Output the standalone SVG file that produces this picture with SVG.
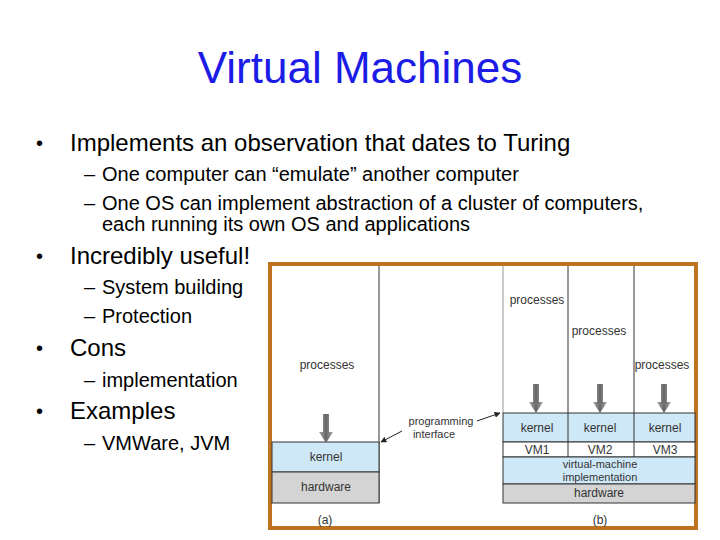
<svg xmlns="http://www.w3.org/2000/svg" width="720" height="540" viewBox="0 0 720 540">
<defs>
<style>
text{font-family:"Liberation Sans",Arial,sans-serif;fill:#000}
.t1{font-size:24px}.t2{font-size:20px}
.f{font-size:12px;fill:#333;text-anchor:middle}
.s{font-size:11px}
.k{fill:#cfe8f7;stroke:#333;stroke-width:1}
.h{fill:#d4d4d4;stroke:#333;stroke-width:1}
.w{fill:#fff;stroke:#333;stroke-width:1}
.ln{stroke:#333;stroke-width:1;fill:none}
</style>
<linearGradient id="g" x1="0" y1="0" x2="1" y2="0"><stop offset="0" stop-color="#aaa"/><stop offset="0.5" stop-color="#666"/><stop offset="1" stop-color="#aaa"/></linearGradient>
<marker id="ah" viewBox="0 0 10 10" refX="9" refY="5" markerWidth="6" markerHeight="6" orient="auto-start-reverse"><path d="M0,0L10,5L0,10z" fill="#222"/></marker>
<g id="dn"><path d="M-3,0H3V18H7L0,29L-7,18H-3Z" fill="url(#g)"/></g>
</defs>
<rect width="720" height="540" fill="#fff"/>
<text x="360" y="83" text-anchor="middle" style="font-size:44px;fill:#1c1ce6">Virtual Machines</text>
<g id="bullets">
<text class="t2" x="36" y="150">•</text><text class="t1" x="70" y="151">Implements an observation that dates to Turing</text>
<text class="t2" x="84" y="181">–</text><text class="t2" x="102" y="181">One computer can “emulate” another computer</text>
<text class="t2" x="84" y="210">–</text><text class="t2" x="102" y="210">One OS can implement abstraction of a cluster of computers,</text>
<text class="t2" x="102" y="231">each running its own OS and applications</text>
<text class="t2" x="36" y="263">•</text><text class="t1" x="70" y="264">Incredibly useful!</text>
<text class="t2" x="84" y="294">–</text><text class="t2" x="102" y="294">System building</text>
<text class="t2" x="84" y="323">–</text><text class="t2" x="102" y="323">Protection</text>
<text class="t2" x="36" y="355">•</text><text class="t1" x="70" y="356">Cons</text>
<text class="t2" x="84" y="387">–</text><text class="t2" x="102" y="387">implementation</text>
<text class="t2" x="36" y="418">•</text><text class="t1" x="70" y="419">Examples</text>
<text class="t2" x="84" y="450">–</text><text class="t2" x="102" y="450">VMWare, JVM</text>
</g>
<rect x="270" y="264" width="426" height="264" fill="#fff" stroke="#c0731e" stroke-width="4"/>
<g id="a">
<line class="ln" x1="379" y1="266" x2="379" y2="503"/>
<rect class="k" x="272" y="442" width="107" height="30"/>
<rect class="h" x="272" y="472" width="107" height="31"/>
<text class="f" x="326" y="461">kernel</text>
<text class="f" x="326" y="491">hardware</text>
<text class="f" x="327" y="369">processes</text>
<use href="#dn" x="326" y="414"/>
<text class="f" x="325" y="524">(a)</text>
</g>
<g id="b">
<line x1="503" y1="266" x2="503" y2="413" stroke="#bbb" stroke-width="1.5"/>
<line class="ln" x1="568" y1="266" x2="568" y2="457"/>
<line class="ln" x1="634" y1="266" x2="634" y2="457"/>
<rect class="k" x="503" y="413" width="192" height="29"/>
<line class="ln" x1="568" y1="413" x2="568" y2="442"/><line class="ln" x1="634" y1="413" x2="634" y2="442"/>
<rect class="w" x="503" y="442" width="192" height="15"/>
<line class="ln" x1="568" y1="442" x2="568" y2="457"/><line class="ln" x1="634" y1="442" x2="634" y2="457"/>
<rect class="k" x="503" y="457" width="192" height="27"/>
<rect class="h" x="503" y="484" width="192" height="19"/>
<text class="f" x="537" y="432">kernel</text><text class="f" x="600" y="432">kernel</text><text class="f" x="665" y="432">kernel</text>
<text class="f" x="537" y="454">VM1</text><text class="f" x="600" y="454">VM2</text><text class="f" x="665" y="454">VM3</text>
<text class="f s" x="600" y="468">virtual-machine</text><text class="f s" x="600" y="481">implementation</text>
<text class="f" x="599" y="497">hardware</text>
<text class="f" x="537" y="304">processes</text><text class="f" x="599" y="335">processes</text><text class="f" x="662" y="369">processes</text>
<use href="#dn" x="536" y="384"/><use href="#dn" x="600" y="384"/><use href="#dn" x="664" y="384"/>
<text class="f" x="600" y="524">(b)</text>
</g>
<g id="connectors">
<text class="f s" x="441" y="425">programming</text><text class="f s" x="434" y="438">interface</text>
<line x1="402" y1="431" x2="381" y2="442" stroke="#222" marker-end="url(#ah)"/>
<line x1="477" y1="421" x2="500" y2="413" stroke="#222" marker-end="url(#ah)"/>
</g>
</svg>
